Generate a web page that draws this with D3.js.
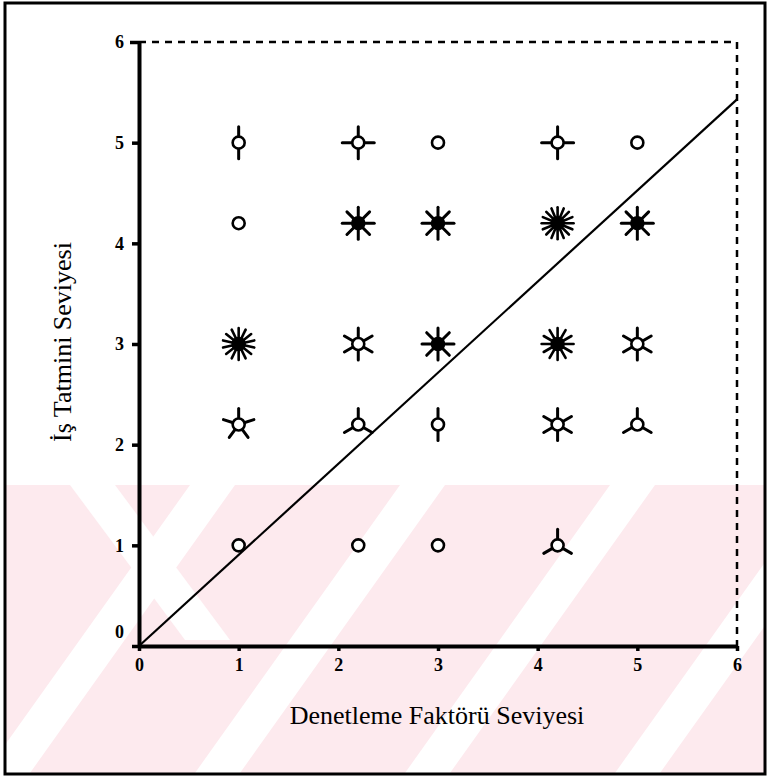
<!DOCTYPE HTML>
<html>
	<head>
		<title>Sunflower plot</title>
		<meta charset="UTF8">
		<script src='https://d3js.org/d3.v7.min.js'></script>
		<style>
			body
			{
				margin: 0;
				padding: 0;
				background-color: white;
			}
			.tick-label
			{
				font-family: "Liberation Serif", serif;
				font-weight: bold;
				font-size: 18px;
			}
			.axis-title
			{
				font-family: "Liberation Serif", serif;
				font-size: 26px;
			}
		</style>
	</head>
	<body>
		<svg></svg>
	</body>
	<script>
		// grid positions of the sunflowers
		const pointX = [1, 2.2, 3, 4.2, 5,
						1, 2.2, 3, 4.2, 5,
						1, 2.2, 3, 4.2, 5,
						1, 2.2, 3, 4.2, 5,
						1, 2.2, 3, 4.2];
		const pointY = [5, 5, 5, 5, 5,
						4.2, 4.2, 4.2, 4.2, 4.2,
						3, 3, 3, 3, 3,
						2.2, 2.2, 2.2, 2.2, 2.2,
						1, 1, 1, 1];
		// number of cases (petals) at each position
		const pointCount = [2, 4, 1, 4, 1,
							1, 8, 8, 16, 8,
							14, 6, 8, 12, 6,
							5, 3, 2, 6, 3,
							1, 1, 1, 3];

		const xTicks = [0, 1, 2, 3, 4, 5, 6];
		const yTicks = [0, 1, 2, 3, 4, 5, 6];

		// fitted line
		const lineX = [0, 6];
		const lineY = [0, 5.43];

		const w = 770;
		const h = 780;

		const svg = d3.select('svg')
			.attr("width", w)
			.attr("height", h);

		const xScale = d3.scaleLinear().domain([0, 6]).range([139, 737]);
		const yScale = d3.scaleLinear().domain([0, 6]).range([646, 42]);

		// faint watermark stripes in lower half
		const wm = svg.append('g');
		wm.append('clipPath')
			.attr("id", "wmclip")
			.append('rect')
			.attr("x", 6).attr("y", 485)
			.attr("width", 758).attr("height", 288);
		const wmg = wm.append('g').attr("clip-path", "url(#wmclip)");
		wmg.append('rect')
			.attr("x", 0).attr("y", 485)
			.attr("width", w).attr("height", 300)
			.style("fill", "#fdeaee");
		[190, 400, 610, 820].forEach(s => {
			wmg.append('path')
				.attr("d", "M" + (s - 210) + ",780 L" + (s - 165) + ",780 L" + (s + 45) + ",485 L" + s + ",485 Z")
				.style("fill", "white");
		});
		wmg.append('path')
			.attr("d", "M70,485 L115,485 L230,640 L185,640 Z")
			.style("fill", "white");

		// outer frame
		svg.append('rect')
			.attr("x", 5).attr("y", 3)
			.attr("width", 760).attr("height", 771)
			.style("fill", "none")
			.style("stroke", "black")
			.style("stroke-width", 3);

		// dashed top and right edges
		svg.append('line')
			.attr("x1", xScale(0)).attr("x2", xScale(6))
			.attr("y1", yScale(6)).attr("y2", yScale(6))
			.style("stroke", "black").style("stroke-width", 2.5)
			.style("stroke-dasharray", "7,6");
		svg.append('line')
			.attr("x1", xScale(6)).attr("x2", xScale(6))
			.attr("y1", yScale(6)).attr("y2", yScale(0))
			.style("stroke", "black").style("stroke-width", 2.5)
			.style("stroke-dasharray", "7,6");

		// axes
		const xAxis = d3.axisBottom(xScale).tickValues(xTicks).tickSize(5).tickSizeOuter(0).tickFormat(d => d);
		const yAxis = d3.axisLeft(yScale).tickValues(yTicks).tickSize(7).tickSizeOuter(0).tickFormat(d => d);

		const gx = svg.append('g')
			.attr("transform", "translate(0," + yScale(0) + ")")
			.call(xAxis);
		const gy = svg.append('g')
			.attr("transform", "translate(" + xScale(0) + ",0)")
			.call(yAxis);

		[gx, gy].forEach(g => {
			g.select('.domain').style("stroke", "black").style("stroke-width", 4);
			g.selectAll('.tick line').style("stroke", "black").style("stroke-width", 3.5);
			g.selectAll('.tick text')
				.attr("class", "tick-label")
				.style("fill", "black");
		});
		gx.selectAll('.tick text').attr("dy", "0.95em");
		gy.selectAll('.tick text').attr("x", -15);
		gy.selectAll('.tick text').filter(d => d === 0).attr("dy", "-0.5em");
		gy.selectAll('.tick line').filter(d => d === 6).attr("x2", -9);

		// regression line
		svg.append('line')
			.attr("x1", xScale(lineX[0])).attr("y1", yScale(lineY[0]))
			.attr("x2", xScale(lineX[1])).attr("y2", yScale(lineY[1]))
			.style("stroke", "black")
			.style("stroke-width", 2.2);

		// sunflowers
		const petalLen = 16;
		const flowers = svg.selectAll('.flower')
			.data(pointX.map((x, i) => ({x: x, y: pointY[i], n: pointCount[i]})))
			.enter()
			.append('g')
			.attr("class", "flower")
			.attr("transform", d => "translate(" + xScale(d.x) + "," + yScale(d.y) + ")");

		flowers.each(function(d) {
			const g = d3.select(this);
			if (d.n > 1) {
				for (let i = 0; i < d.n; i++) {
					const a = Math.PI / 2 + 2 * Math.PI * i / d.n;
					g.append('line')
						.attr("x1", 0).attr("y1", 0)
						.attr("x2", petalLen * Math.cos(a))
						.attr("y2", -petalLen * Math.sin(a))
						.style("stroke", "black")
						.style("stroke-width", d.n > 10 ? 2.6 : 3)
						.style("stroke-linecap", "round");
				}
			}
			g.append('circle')
				.attr("r", 6)
				.style("fill", d.n > 6 ? "black" : "white")
				.style("stroke", "black")
				.style("stroke-width", 2.6);
		});

		// axis titles
		svg.append('text')
			.attr("class", "axis-title")
			.attr("x", 437)
			.attr("y", 724)
			.attr("text-anchor", "middle")
			.text("Denetleme Faktörü Seviyesi");

		svg.append('text')
			.attr("class", "axis-title")
			.attr("transform", "translate(71,342) rotate(-90)")
			.attr("text-anchor", "middle")
			.text("İş Tatmini Seviyesi");
	</script>
</html>
